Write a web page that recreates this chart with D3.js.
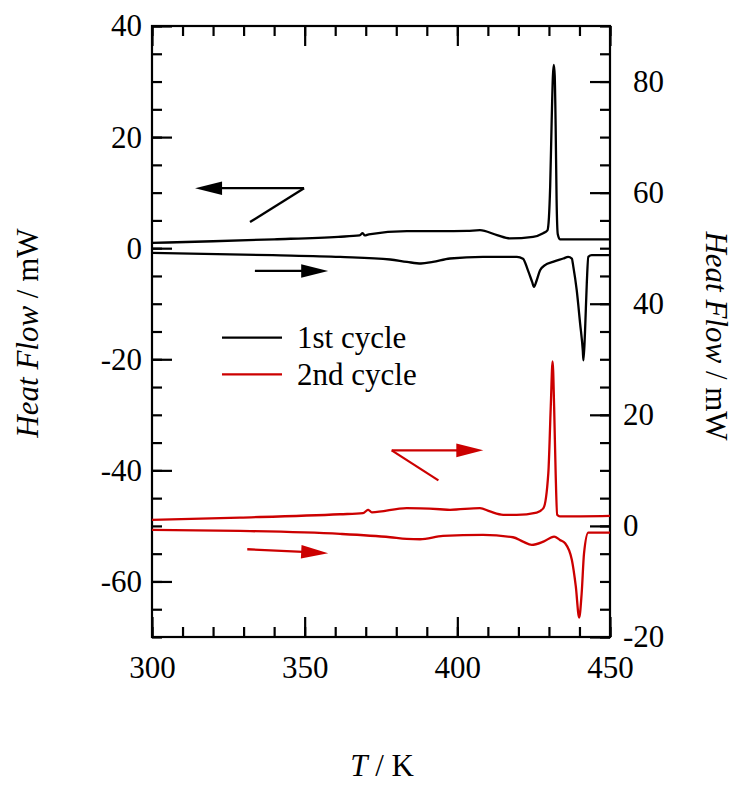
<!DOCTYPE html>
<html><head><meta charset="utf-8">
<script src="https://cdn.jsdelivr.net/npm/d3@7"></script>
<style>body{margin:0;background:#fff}svg{display:block}</style>
</head><body><svg id="c" width="736" height="787"></svg>
<script>
// ---- data ----
// 1st cycle, cooling (left axis, mW)
const c1CoolT  = [300, 320, 340, 361, 368, 369, 369.7, 371, 383.5, 394.3, 403.2, 407.4, 413, 417.2, 424.8, 428.1, 429.5, 430.0, 430.4, 430.9, 431.3, 431.6, 431.9, 432.2, 432.5, 432.9, 433.6, 450];
const c1CoolHF = [0.95, 1.25, 1.6, 2.05, 2.3, 2.7, 2.3, 2.5, 3.06, 3.06, 3.12, 3.24, 2.34, 1.75, 2.04, 2.7, 3.2, 5.5, 11, 23, 31, 33.0, 31, 22, 9, 2.5, 1.6, 1.6];
// 1st cycle, heating (left axis, mW)
const c1HeatT  = [300, 339.6, 361.6, 378, 383.5, 388.1, 392, 397.6, 408.4, 419.5, 421.5, 423.1, 424.5, 425.1, 426, 427.1, 428.7, 431.3, 434.7, 436.3, 437.5, 438, 439.1, 440.2, 441.1, 441.3, 441.8, 442.4, 442.9, 444, 450];
const c1HeatHF = [-0.85, -1.26, -1.57, -2.04, -2.47, -2.76, -2.47, -1.86, -1.57, -1.57, -1.9, -3.96, -6.07, -6.97, -5.77, -3.96, -3.06, -2.47, -1.86, -1.57, -1.86, -3.37, -7.57, -13.5, -18.5, -20.2, -15.3, -6.3, -1.57, -1.26, -1.26];
// 2nd cycle, cooling (right axis, mW)
const c2CoolT  = [300, 328.8, 361.6, 369.1, 370.8, 372, 383.4, 394.3, 397.6, 407.4, 410.7, 415, 419.4, 426, 428.2, 429.8, 430.6, 431.2, 431.7, 432.2, 432.7, 433.6, 450];
const c2CoolHF = [1.08, 1.5, 2.1, 2.3, 2.9, 2.45, 3.2, 3.0, 2.9, 3.2, 2.6, 2.0, 2.0, 2.4, 3.2, 9.5, 21.5, 29.6, 21.5, 9.5, 2.0, 1.7, 1.8];
// 2nd cycle, heating (right axis, mW)
const c2HeatT  = [300, 328.8, 361.6, 378, 383.4, 387.8, 395.3, 408.4, 418.2, 421.5, 424.4, 428.2, 431.7, 433.6, 435.3, 437.5, 438.8, 439.9, 440.7, 441.5, 442.9, 450];
const c2HeatHF = [-0.72, -0.9, -1.44, -2.04, -2.34, -2.4, -1.8, -1.62, -2.04, -2.83, -3.42, -2.83, -1.93, -2.52, -3.12, -6.1, -10.9, -16.5, -12.3, -4.9, -1.2, -1.2];

const seriesNames = ["1st cycle", "2nd cycle"];
const seriesColors = ["#000000", "#cc0000"];

const xTicks = [300, 350, 400, 450];
const yLeftTicks = [40, 20, 0, -20, -40, -60];
const yRightTicks = [80, 60, 40, 20, 0, -20];

// annotation arrows in data units: [T0, v0, T1, v1] (arrow points at end)
const pointerBlack = {axis: "left", diag: [332.1, 4.7, 349.8, 10.8], arrow: [349.8, 10.8, 314.1, 10.8]};
const pointerRed = {axis: "right", diag: [393.8, 8.2, 378.5, 13.6], arrow: [378.5, 13.6, 408.5, 13.6]};
const heatArrowBlack = {axis: "left", arrow: [333.7, -4.1, 357.7, -4.1]};
const heatArrowRed = {axis: "right", arrow: [331.2, -4.2, 357.7, -4.9]};

// ---- drawing ----
const L = 152, R = 610, T = 26, B = 637;
const FONT = "'Liberation Serif','Times New Roman',serif";
const FS = 31;
const svg = d3.select("#c");
const x = d3.scaleLinear().domain([300, 450]).range([L, R]);
const yL = d3.scaleLinear().domain([-70, 40]).range([B, T]);
const yR = d3.scaleLinear().domain([-20, 90]).range([B, T]);

function styleAxis(g) {
  g.select(".domain").remove();
  g.selectAll(".tick line").attr("stroke", "#000").attr("stroke-width", 2.2);
  g.selectAll("text").attr("font-family", FONT).attr("font-size", FS).attr("fill", "#000");
}
const xMinor = d3.range(300, 451, 10);
const yLMinor = d3.range(-70, 41, 5);
const yRMinor = d3.range(-20, 91, 5);

svg.append("g").attr("transform", `translate(0,${B})`)
  .call(d3.axisBottom(x).tickValues(xMinor).tickSize(-10).tickFormat("")).call(styleAxis);
svg.append("g").attr("transform", `translate(0,${B})`)
  .call(d3.axisBottom(x).tickValues(xTicks).tickSize(-20).tickPadding(19).tickFormat(String)).call(styleAxis);
svg.append("g").attr("transform", `translate(0,${T})`)
  .call(d3.axisTop(x).tickValues(xMinor).tickSize(-10).tickFormat("")).call(styleAxis);
svg.append("g").attr("transform", `translate(0,${T})`)
  .call(d3.axisTop(x).tickValues(xTicks).tickSize(-20).tickFormat("")).call(styleAxis);

svg.append("g").attr("transform", `translate(${L},0)`)
  .call(d3.axisLeft(yL).tickValues(yLMinor).tickSize(-10).tickFormat("")).call(styleAxis);
svg.append("g").attr("transform", `translate(${L},0)`)
  .call(d3.axisLeft(yL).tickValues(yLeftTicks).tickSize(-20).tickPadding(10).tickFormat(String)).call(styleAxis);

svg.append("g").attr("transform", `translate(${R},0)`)
  .call(d3.axisRight(yR).tickValues(yRMinor).tickSize(-10).tickFormat("")).call(styleAxis);
const gr = svg.append("g").attr("transform", `translate(${R},0)`)
  .call(d3.axisRight(yR).tickValues(yRightTicks).tickSize(-20).tickPadding(14).tickFormat(String)).call(styleAxis);
gr.selectAll(".tick text").attr("x", d => d >= 40 ? 23 : 13);

// frame
svg.append("rect").attr("x", L).attr("y", T).attr("width", R - L).attr("height", B - T)
  .attr("fill", "none").attr("stroke", "#000").attr("stroke-width", 2.2);

// curves
const plot = svg.append("g");
function drawCurve(Ts, Vs, yScale, color) {
  const pts = Ts.map((t, i) => [t, Vs[i]]);
  const line = d3.line().x(d => x(d[0])).y(d => yScale(d[1])).curve(d3.curveMonotoneX);
  plot.append("path").attr("d", line(pts)).attr("fill", "none")
    .attr("stroke", color).attr("stroke-width", 2.3).attr("stroke-linejoin", "round");
}
drawCurve(c1CoolT, c1CoolHF, yL, seriesColors[0]);
drawCurve(c1HeatT, c1HeatHF, yL, seriesColors[0]);
drawCurve(c2CoolT, c2CoolHF, yR, seriesColors[1]);
drawCurve(c2HeatT, c2HeatHF, yR, seriesColors[1]);

// arrows
function px(a, axis) {
  const ys = axis === "left" ? yL : yR;
  return [x(a[0]), ys(a[1]), x(a[2]), ys(a[3])];
}
function drawArrow(spec, color) {
  if (spec.diag) {
    const d = px(spec.diag, spec.axis);
    svg.append("line").attr("x1", d[0]).attr("y1", d[1]).attr("x2", d[2]).attr("y2", d[3])
      .attr("stroke", color).attr("stroke-width", 2.3);
  }
  const a = px(spec.arrow, spec.axis);
  const dx = a[2] - a[0], dy = a[3] - a[1], len = Math.hypot(dx, dy);
  const ux = dx / len, uy = dy / len, hl = 27, hw = 6.8;
  const bx = a[2] - ux * hl, by = a[3] - uy * hl;
  svg.append("line").attr("x1", a[0]).attr("y1", a[1]).attr("x2", bx + ux * 2).attr("y2", by + uy * 2)
    .attr("stroke", color).attr("stroke-width", 2.3);
  svg.append("path")
    .attr("d", `M${a[2]},${a[3]}L${bx - uy * hw},${by + ux * hw}L${bx + uy * hw},${by - ux * hw}Z`)
    .attr("fill", color);
}
drawArrow(pointerBlack, seriesColors[0]);
drawArrow(heatArrowBlack, seriesColors[0]);
drawArrow(pointerRed, seriesColors[1]);
drawArrow(heatArrowRed, seriesColors[1]);

// legend
const lg = svg.append("g");
seriesNames.forEach((name, i) => {
  const yy = 337.7 + i * 36.6;
  lg.append("line").attr("x1", 222).attr("x2", 282).attr("y1", yy).attr("y2", yy)
    .attr("stroke", seriesColors[i]).attr("stroke-width", 2.3);
  lg.append("text").attr("x", 297).attr("y", yy + 10.5).text(name)
    .attr("font-family", FONT).attr("font-size", FS).attr("fill", "#000");
});

// axis titles
function title(g) {
  g.attr("font-family", FONT).attr("font-size", FS).attr("fill", "#000")
    .attr("text-anchor", "middle").attr("dominant-baseline", "central");
  g.append("tspan").attr("font-style", "italic").text("Heat Flow");
  g.append("tspan").text(" / mW");
}
svg.append("text").attr("transform", "translate(27,333) rotate(-90)").call(title);
svg.append("text").attr("transform", "translate(717,336) rotate(90)").call(title);
const xt = svg.append("text").attr("x", 382).attr("y", 776).attr("text-anchor", "middle")
  .attr("font-family", FONT).attr("font-size", FS).attr("fill", "#000");
xt.append("tspan").attr("font-style", "italic").text("T");
xt.append("tspan").text(" / K");
</script>
</body></html>
